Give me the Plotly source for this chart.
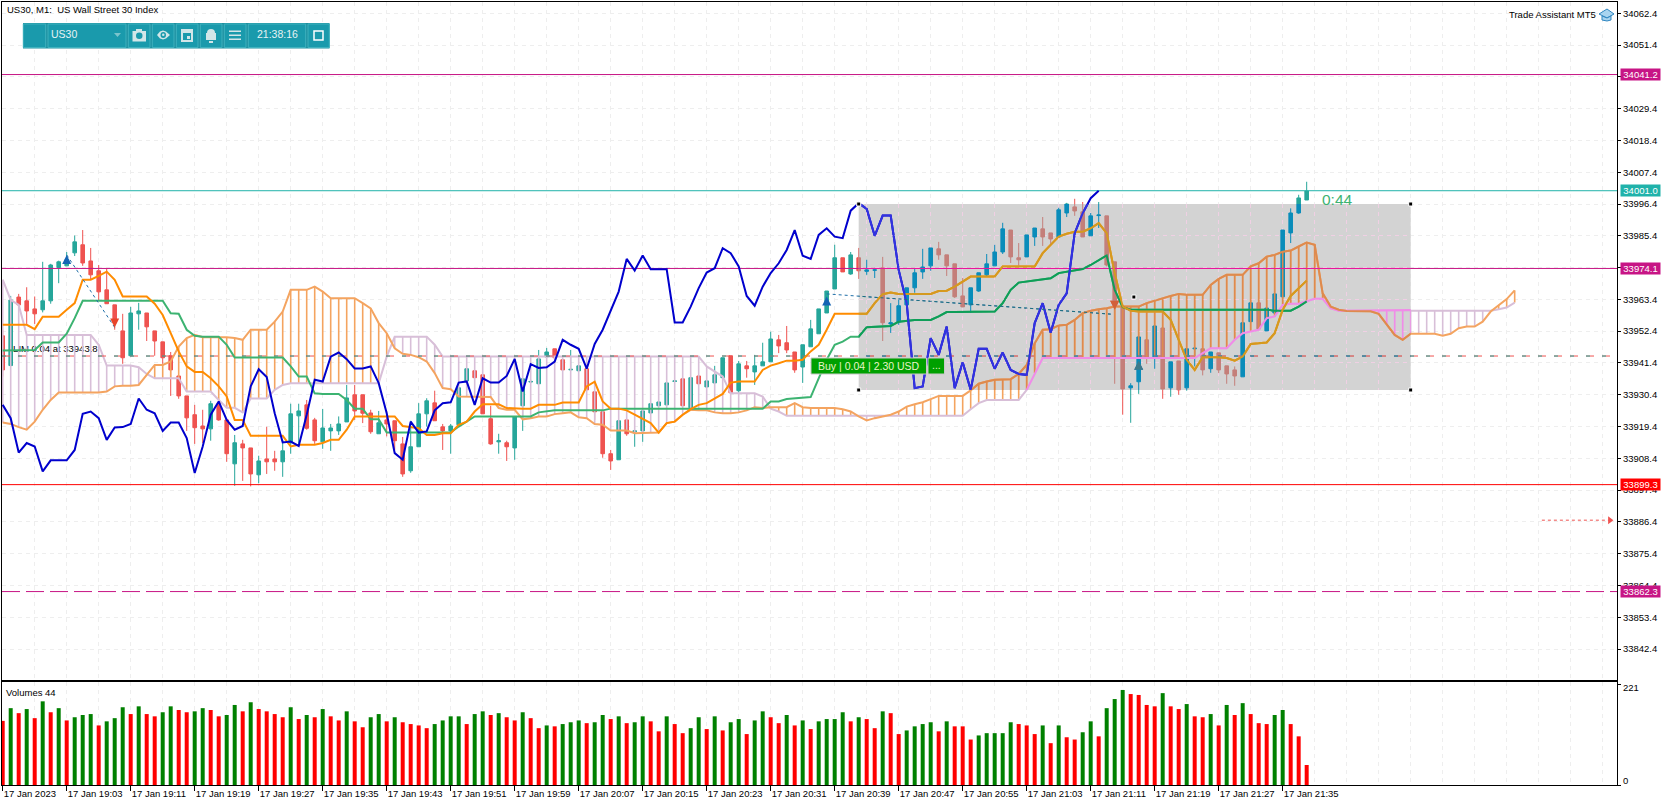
import plotly.graph_objects as go

W, H = 1670, 806

# candles, one row of ten bars per line
opens = [33950.8, 33940.5, 33964.2, 33962.9, 33960.1, 33959.8, 33962.9, 33974.4, 33975.0, 33979.5,
         33982.3, 33976.7, 33973.3, 33966.7, 33961.5, 33952.5, 33943.9, 33958.4, 33958.7, 33952.5,
         33948.7, 33943.9, 33936.9, 33930.0, 33923.5, 33919.6, 33918.6, 33927.3, 33921.7, 33906.5,
         33913.4, 33912.0, 33902.7, 33908.2, 33908.2, 33907.2, 33913.8, 33923.1, 33926.9, 33921.7,
         33914.1, 33917.9, 33917.9, 33921.0, 33930.4, 33930.4, 33924.1, 33916.9, 33921.7, 33921.4,
         33913.4, 33904.1, 33912.4, 33923.8, 33927.6, 33919.3, 33917.9, 33920.0, 33935.2, 33938.7,
         33937.3, 33922.1, 33914.1, 33913.8, 33912.0, 33926.6, 33934.8, 33934.2, 33943.5, 33946.3,
         33942.5, 33939.0, 33938.7, 33939.4, 33931.4, 33924.5, 33910.0, 33907.9, 33921.7, 33917.6,
         33917.9, 33924.1, 33926.6, 33926.9, 33935.0, 33935.9, 33925.9, 33936.9, 33933.1, 33934.5,
         33936.3, 33943.9, 33931.8, 33940.4, 33938.3, 33940.4, 33941.8, 33949.4, 33948.4, 33945.2,
         33940.0, 33947.0, 33951.5, 33958.7, 33967.0, 33977.8, 33972.2, 33977.8, 33973.1, 33973.5,
         33974.3, 33954.9, 33955.6, 33961.5, 33967.4, 33972.9, 33975.0, 33980.9, 33978.8, 33975.7,
         33964.6, 33961.5, 33966.3, 33971.9, 33975.0, 33979.8, 33987.4, 33977.8, 33978.1, 33985.0,
         33987.8, 33986.4, 33985.0, 33993.3, 33995.4, 33993.7, 33985.4, 33992.4, 33992.3, 33976.4,
         33960.8, 33932.8, 33934.9, 33949.4, 33943.0, 33953.5, 33932.8, 33942.1, 33932.8, 33946.3,
         33946.3, 33939.4, 33944.9, 33940.4, 33939.0, 33936.6, 33955.7, 33962.2, 33952.5, 33958.7,
         33964.3, 33986.4, 33993.3, 33997.8]
highs = [33952.9, 33964.6, 33965.3, 33967.6, 33964.4, 33976.4, 33975.7, 33976.8, 33979.8, 33985.5,
         33987.4, 33981.2, 33975.3, 33974.0, 33961.5, 33958.4, 33960.8, 33962.2, 33958.7, 33952.5,
         33948.7, 33945.2, 33936.9, 33930.0, 33926.9, 33925.2, 33928.3, 33928.3, 33921.7, 33916.5,
         33914.8, 33912.0, 33909.3, 33919.3, 33911.0, 33914.8, 33927.3, 33927.3, 33928.6, 33922.4,
         33925.5, 33920.3, 33922.9, 33933.8, 33933.8, 33930.4, 33925.2, 33924.8, 33924.8, 33921.4,
         33915.8, 33921.4, 33927.5, 33929.2, 33931.8, 33920.3, 33920.3, 33932.8, 33939.4, 33938.7,
         33937.3, 33926.6, 33916.9, 33914.5, 33922.8, 33935.9, 33935.6, 33945.9, 33946.6, 33946.3,
         33942.5, 33945.9, 33940.4, 33939.4, 33931.4, 33924.5, 33911.3, 33921.4, 33921.7, 33917.9,
         33924.8, 33927.3, 33927.9, 33934.5, 33935.2, 33935.9, 33936.3, 33936.9, 33935.2, 33940.4,
         33943.2, 33943.9, 33942.1, 33942.1, 33944.2, 33948.4, 33952.2, 33951.1, 33954.2, 33945.2,
         33947.7, 33956.3, 33960.1, 33966.3, 33982.3, 33977.8, 33979.8, 33981.2, 33977.1, 33974.3,
         33978.1, 33962.1, 33963.2, 33967.4, 33974.0, 33980.9, 33981.2, 33983.3, 33978.8, 33975.7,
         33970.8, 33967.4, 33972.6, 33979.1, 33982.3, 33989.9, 33987.4, 33982.9, 33985.7, 33988.1,
         33991.9, 33986.4, 33995.1, 33996.8, 33998.2, 33997.1, 33993.3, 33997.1, 33992.3, 33976.4,
         33961.5, 33934.4, 33950.5, 33949.4, 33954.2, 33953.5, 33941.8, 33942.1, 33946.3, 33946.5,
         33946.3, 33945.2, 33944.9, 33940.4, 33940.2, 33955.3, 33962.2, 33962.2, 33960.4, 33965.3,
         33987.4, 33994.9, 33999.6, 34004.1]
lows = [33936.7, 33940.5, 33961.5, 33954.9, 33954.9, 33958.9, 33961.9, 33969.0, 33975.0, 33978.4,
        33975.0, 33970.2, 33963.2, 33961.9, 33952.9, 33941.1, 33943.9, 33952.9, 33949.0, 33943.9,
        33941.1, 33930.0, 33929.0, 33917.9, 33913.4, 33913.7, 33914.5, 33921.4, 33907.2, 33898.9,
        33900.6, 33898.7, 33899.8, 33903.0, 33904.1, 33902.0, 33910.0, 33913.4, 33918.3, 33913.4,
        33911.7, 33911.0, 33916.5, 33921.0, 33921.7, 33920.6, 33916.9, 33916.9, 33916.0, 33911.3,
        33902.0, 33903.4, 33912.4, 33919.4, 33921.4, 33911.3, 33910.0, 33920.0, 33932.1, 33936.3,
        33923.8, 33913.1, 33910.0, 33907.5, 33907.9, 33917.9, 33934.4, 33934.2, 33943.5, 33942.5,
        33939.0, 33939.0, 33938.7, 33932.1, 33921.7, 33908.6, 33904.4, 33907.9, 33916.2, 33912.4,
        33914.1, 33924.1, 33926.6, 33926.9, 33935.0, 33926.6, 33925.9, 33934.2, 33933.1, 33934.5,
        33936.3, 33931.1, 33931.1, 33936.3, 33933.8, 33940.4, 33941.8, 33944.8, 33944.8, 33938.0,
        33934.5, 33947.0, 33951.5, 33958.7, 33967.0, 33972.9, 33971.9, 33970.5, 33971.9, 33970.8,
        33949.0, 33951.8, 33954.6, 33961.5, 33965.7, 33970.5, 33973.3, 33977.1, 33971.5, 33963.9,
        33960.8, 33958.7, 33966.0, 33971.5, 33975.0, 33979.1, 33976.0, 33975.0, 33978.1, 33981.9,
        33981.9, 33982.6, 33985.0, 33991.9, 33992.3, 33985.0, 33985.4, 33988.1, 33974.8, 33934.2,
        33923.5, 33920.7, 33930.7, 33941.1, 33939.4, 33929.0, 33929.7, 33930.4, 33931.8, 33940.2,
        33937.1, 33938.0, 33937.9, 33934.2, 33933.5, 33936.6, 33955.7, 33953.2, 33952.5, 33958.7,
        33964.3, 33982.9, 33993.0, 33997.8]
closes = [33939.0, 33963.2, 33961.5, 33959.4, 33958.4, 33962.9, 33975.3, 33976.4, 33977.1, 33983.3,
          33976.0, 33971.9, 33966.0, 33961.9, 33955.3, 33943.2, 33958.7, 33959.4, 33953.9, 33949.0,
          33943.2, 33939.0, 33930.0, 33922.4, 33919.0, 33918.6, 33927.3, 33921.7, 33910.0, 33913.8,
          33912.0, 33903.0, 33907.5, 33907.2, 33907.2, 33911.0, 33923.8, 33924.8, 33918.8, 33914.5,
          33918.9, 33918.9, 33920.3, 33929.3, 33924.8, 33924.0, 33917.6, 33920.7, 33920.3, 33914.5,
          33903.0, 33912.4, 33923.8, 33928.3, 33921.4, 33917.9, 33919.6, 33932.8, 33939.4, 33936.3,
          33923.8, 33913.4, 33914.5, 33912.4, 33922.8, 33935.9, 33935.0, 33942.8, 33945.2, 33943.2,
          33939.0, 33939.2, 33940.4, 33932.1, 33924.5, 33910.0, 33907.5, 33921.4, 33916.9, 33917.9,
          33924.8, 33927.3, 33927.9, 33934.5, 33935.2, 33926.6, 33936.3, 33934.2, 33935.2, 33937.3,
          33943.2, 33931.1, 33941.1, 33939.4, 33940.4, 33941.8, 33949.7, 33947.3, 33945.9, 33939.0,
          33947.7, 33953.2, 33960.1, 33966.3, 33977.8, 33972.9, 33978.8, 33973.3, 33973.6, 33973.6,
          33955.3, 33955.3, 33961.2, 33967.4, 33972.6, 33974.6, 33981.2, 33978.8, 33975.0, 33964.3,
          33960.8, 33967.4, 33972.6, 33975.7, 33979.8, 33987.8, 33978.1, 33977.1, 33985.7, 33988.1,
          33985.0, 33984.3, 33994.4, 33996.4, 33994.0, 33985.0, 33992.3, 33992.6, 33975.3, 33961.5,
          33932.4, 33933.5, 33950.4, 33943.0, 33954.2, 33932.4, 33941.8, 33932.1, 33946.3, 33946.5,
          33939.0, 33945.2, 33939.0, 33937.6, 33936.9, 33955.3, 33962.2, 33953.2, 33960.4, 33965.3,
          33987.4, 33993.3, 33998.5, 34000.9]

volumes = [141, 169, 158, 167, 147, 184, 160, 169, 142, 149,
           154, 156, 131, 140, 147, 171, 156, 173, 156, 151,
           160, 173, 165, 160, 162, 169, 165, 151, 154, 176,
           162, 182, 167, 162, 156, 149, 171, 145, 154, 149,
           167, 151, 142, 162, 140, 127, 149, 156, 140, 149,
           138, 134, 131, 125, 134, 142, 151, 151, 134, 156,
           162, 154, 158, 149, 142, 160, 147, 125, 131, 129,
           134, 138, 142, 136, 138, 154, 145, 151, 136, 138,
           151, 140, 118, 151, 134, 114, 125, 149, 123, 151,
           120, 138, 145, 112, 142, 162, 149, 136, 154, 131,
           142, 123, 140, 145, 145, 160, 140, 149, 145, 125,
           162, 158, 112, 120, 129, 134, 138, 118, 140, 129,
           129, 100, 109, 114, 114, 114, 138, 134, 131, 112,
           131, 92, 131, 105, 100, 116, 140, 107, 169, 189,
           209, 200, 198, 176, 173, 202, 173, 167, 178, 151,
           149, 156, 131, 176, 154, 180, 156, 136, 134, 154,
           165, 134, 107, 44]
# colours read bar by bar from the volume pane
volume_up = [False, True, False, True, False, True, False, True, False, True,
             True, True, False, True, True, True, False, True, False, False,
             True, True, False, False, True, True, False, False, True, True,
             False, True, False, False, False, False, True, False, True, False,
             True, False, False, True, False, False, True, True, False, True,
             False, False, False, False, True, True, True, True, False, True,
             True, False, True, False, False, True, False, False, True, False,
             True, True, True, False, True, True, False, True, False, True,
             True, False, False, True, False, False, True, True, False, True,
             False, True, True, False, True, True, False, False, True, False,
             True, False, True, True, True, True, False, True, False, False,
             True, False, False, True, True, True, True, False, True, False,
             False, False, True, True, True, True, True, False, False, False,
             True, False, True, False, False, True, True, False, True, True,
             True, False, False, False, False, True, False, False, True, False,
             False, True, False, True, False, True, False, False, False, True,
             True, False, False, False]

senkou_a = [33920.8, 33920.3, 33919.2, 33918.3, 33921.1, 33925.2, 33928.6, 33931.2, 33931.2, 33931.2,
            33931.2, 33931.2, 33931.2, 33931.5, 33933.3, 33933.5, 33933.5, 33933.8, 33937.3, 33940.7,
            33940.7, 33941.9, 33947.1, 33950.0, 33951.1, 33950.3, 33950.3, 33950.3, 33950.3, 33950.0,
            33949.4, 33952.9, 33952.9, 33952.9, 33955.7, 33959.2, 33966.7, 33966.7, 33966.7, 33967.8,
            33966.1, 33963.8, 33963.8, 33963.8, 33963.8, 33962.1, 33960.3, 33955.2, 33951.7, 33946.5,
            33944.6, 33944.2, 33943.4, 33941.9, 33937.9, 33932.7, 33932.3, 33929.8, 33929.8, 33929.8,
            33929.8, 33929.6, 33925.8, 33925.2, 33925.2, 33921.9, 33922.3, 33922.9, 33922.9, 33923.7,
            33924.0, 33924.3, 33922.6, 33922.3, 33920.3, 33920.0, 33918.0, 33918.0, 33918.0, 33917.1,
            33917.1, 33917.3, 33917.3, 33920.6, 33921.1, 33923.5, 33925.2, 33925.0, 33925.0, 33924.3,
            33924.0, 33924.0, 33924.3, 33925.0, 33926.1, 33925.8, 33926.1, 33926.1, 33926.1, 33927.5,
            33926.1, 33925.8, 33925.8, 33925.8, 33925.8, 33925.4, 33924.6, 33922.9, 33921.5, 33922.3,
            33922.9, 33923.5, 33924.6, 33926.3, 33927.1, 33927.8, 33928.9, 33930.0, 33930.0, 33930.0,
            33930.0, 33931.9, 33934.2, 33935.0, 33935.6, 33935.7, 33935.8, 33937.6, 33940.7, 33948.2,
            33952.9, 33953.1, 33954.4, 33954.6, 33956.3, 33958.6, 33959.5, 33960.0, 33960.3, 33960.9,
            33960.9, 33960.9, 33960.9, 33962.1, 33963.0, 33963.8, 33964.6, 33965.3, 33965.0, 33965.0,
            33965.0, 33968.4, 33970.5, 33971.9, 33971.9, 33971.9, 33974.8, 33975.9, 33978.2, 33978.8,
            33979.9, 33980.3, 33981.7, 33983.1, 33982.3, 33965.5, 33960.9, 33959.8, 33959.4, 33959.4,
            33959.4, 33959.3, 33958.4, 33954.6, 33951.1, 33949.4, 33951.5, 33951.5, 33951.5, 33951.5,
            33950.8, 33951.5, 33953.4, 33954.0, 33954.0, 33955.7, 33959.2, 33961.5, 33963.5, 33966.5]
senkou_b = [33970.2, 33963.2, 33961.5, 33951.1, 33951.1, 33951.1, 33951.1, 33951.1, 33951.1, 33951.1,
            33951.1, 33951.1, 33947.7, 33940.5, 33940.5, 33940.5, 33940.5, 33939.9, 33937.6, 33936.1,
            33936.1, 33936.1, 33936.1, 33931.5, 33931.5, 33931.5, 33931.5, 33928.6, 33925.9, 33925.9,
            33924.3, 33929.1, 33929.1, 33929.1, 33932.1, 33933.8, 33934.4, 33934.4, 33934.4, 33934.4,
            33934.4, 33934.4, 33934.4, 33934.4, 33934.4, 33934.4, 33934.4, 33934.4, 33943.6, 33950.5,
            33950.5, 33950.5, 33950.5, 33950.5, 33947.7, 33943.6, 33943.6, 33943.6, 33943.6, 33943.6,
            33943.6, 33943.6, 33943.6, 33943.6, 33943.6, 33943.6, 33943.6, 33943.6, 33943.6, 33943.6,
            33943.6, 33943.6, 33943.6, 33943.6, 33943.6, 33943.6, 33943.6, 33943.6, 33943.6, 33943.6,
            33943.6, 33943.6, 33943.6, 33943.6, 33943.6, 33943.6, 33943.6, 33943.6, 33940.2, 33938.4,
            33936.7, 33930.9, 33930.9, 33930.9, 33930.9, 33929.8, 33925.6, 33924.6, 33923.1, 33923.1,
            33923.1, 33923.1, 33923.1, 33923.1, 33923.1, 33923.1, 33923.1, 33923.1, 33923.1, 33923.1,
            33923.1, 33923.1, 33923.1, 33923.1, 33923.1, 33923.1, 33923.1, 33923.1, 33923.1, 33923.1,
            33923.1, 33925.4, 33927.5, 33928.6, 33928.6, 33928.6, 33928.6, 33928.6, 33932.1, 33937.9,
            33943.1, 33943.1, 33943.1, 33943.1, 33943.1, 33943.1, 33943.1, 33943.1, 33943.1, 33943.1,
            33943.1, 33943.1, 33943.1, 33943.1, 33943.1, 33943.1, 33943.1, 33943.1, 33943.1, 33943.1,
            33944.8, 33946.5, 33946.5, 33946.5, 33949.4, 33951.7, 33952.3, 33952.9, 33956.9, 33957.5,
            33961.5, 33961.9, 33961.9, 33962.7, 33963.6, 33963.6, 33960.3, 33959.5, 33959.5, 33959.5,
            33959.5, 33959.5, 33959.5, 33959.5, 33959.5, 33959.5, 33959.5, 33959.5, 33959.5, 33959.5,
            33959.5, 33959.5, 33959.5, 33959.5, 33959.5, 33959.5, 33959.5, 33960.0, 33960.6, 33962.3]
tenkan = [33954.6, 33954.6, 33954.6, 33954.6, 33953.1, 33957.4, 33957.4, 33957.4, 33959.8, 33962.1,
          33970.2, 33970.2, 33971.5, 33973.0, 33970.2, 33964.4, 33964.4, 33964.4, 33964.4, 33961.9,
          33958.0, 33951.7, 33945.4, 33940.2, 33938.3, 33938.3, 33936.1, 33933.3, 33929.8, 33921.7,
          33921.7, 33916.2, 33916.2, 33916.2, 33916.2, 33916.2, 33912.5, 33913.1, 33913.1, 33913.1,
          33913.7, 33914.8, 33914.8, 33918.3, 33922.9, 33922.9, 33922.9, 33922.9, 33922.9, 33922.9,
          33919.6, 33919.2, 33918.8, 33916.5, 33916.5, 33917.1, 33917.1, 33920.0, 33921.1, 33924.6,
          33927.1, 33927.1, 33927.1, 33925.8, 33925.6, 33925.6, 33925.6, 33926.9, 33926.9, 33926.9,
          33927.7, 33927.7, 33927.7, 33933.3, 33934.9, 33928.1, 33925.6, 33925.6, 33925.0, 33923.5,
          33921.9, 33920.6, 33917.3, 33920.6, 33921.1, 33923.5, 33925.4, 33926.9, 33927.5, 33929.2,
          33930.7, 33934.6, 33935.0, 33935.0, 33935.0, 33939.0, 33940.5, 33941.3, 33942.2, 33942.2,
          33942.5, 33945.4, 33947.7, 33952.9, 33958.4, 33958.4, 33958.4, 33958.4, 33958.4, 33962.1,
          33965.2, 33965.8, 33965.3, 33965.3, 33965.3, 33965.3, 33965.3, 33966.3, 33966.4, 33967.8,
          33969.6, 33971.3, 33971.3, 33971.3, 33971.3, 33974.8, 33974.8, 33974.8, 33974.8, 33974.8,
          33979.4, 33982.3, 33985.1, 33986.1, 33986.8, 33986.8, 33988.0, 33989.8, 33986.3, 33972.5,
          33960.9, 33959.5, 33959.2, 33959.2, 33959.2, 33959.2, 33956.3, 33949.4, 33942.5, 33939.0,
          33943.4, 33943.4, 33943.4, 33943.1, 33942.2, 33943.6, 33948.0, 33948.2, 33948.5, 33951.7,
          33959.8, 33964.6, 33967.3, 33969.9]
kijun = [33945.7, 33945.7, 33945.7, 33945.7, 33945.9, 33948.5, 33948.5, 33948.5, 33951.5, 33956.9,
         33962.9, 33962.9, 33962.9, 33962.9, 33962.9, 33962.9, 33962.9, 33962.9, 33962.9, 33962.9,
         33962.9, 33958.6, 33958.4, 33952.9, 33950.8, 33950.5, 33950.5, 33950.5, 33947.7, 33943.3,
         33943.3, 33943.3, 33943.3, 33943.3, 33943.3, 33943.3, 33940.2, 33936.7, 33936.7, 33930.9,
         33930.7, 33930.7, 33930.7, 33928.6, 33925.6, 33925.6, 33921.9, 33921.9, 33917.3, 33917.3,
         33917.3, 33917.3, 33917.3, 33917.3, 33917.3, 33917.3, 33917.3, 33919.4, 33921.1, 33922.9,
         33922.9, 33922.9, 33922.9, 33922.9, 33922.9, 33922.9, 33922.9, 33924.3, 33924.6, 33925.0,
         33925.0, 33925.0, 33925.0, 33925.0, 33925.0, 33925.0, 33925.6, 33925.6, 33925.6, 33925.6,
         33925.6, 33925.6, 33925.6, 33925.6, 33925.6, 33925.6, 33925.6, 33925.6, 33925.6, 33925.6,
         33925.6, 33925.6, 33925.6, 33925.6, 33925.6, 33925.6, 33928.1, 33928.1, 33928.9, 33929.1,
         33929.2, 33929.6, 33936.1, 33942.5, 33947.7, 33948.8, 33950.5, 33950.5, 33953.8, 33954.0,
         33954.0, 33954.2, 33955.7, 33956.0, 33956.3, 33956.3, 33956.3, 33957.5, 33959.0, 33959.0,
         33959.0, 33959.2, 33959.2, 33959.2, 33959.2, 33962.1, 33966.7, 33969.2, 33969.6, 33969.9,
         33970.5, 33970.7, 33972.5, 33973.0, 33973.6, 33973.9, 33975.3, 33977.1, 33978.6, 33966.7,
         33960.7, 33959.8, 33959.8, 33959.8, 33959.8, 33959.8, 33959.8, 33959.8, 33959.8, 33959.8,
         33959.8, 33959.8, 33959.8, 33959.8, 33959.8, 33959.8, 33959.8, 33959.8, 33959.8, 33959.5,
         33959.5, 33959.5, 33960.9, 33962.7]
chikou = [33926.9, 33922.3, 33910.4, 33913.7, 33912.5, 33903.9, 33907.7, 33907.7, 33907.7, 33911.3,
          33923.8, 33924.6, 33922.3, 33914.8, 33919.1, 33919.2, 33920.3, 33929.1, 33925.2, 33924.0,
          33917.9, 33920.8, 33920.8, 33915.4, 33903.3, 33912.5, 33923.5, 33928.1, 33921.7, 33918.3,
          33919.6, 33933.3, 33939.2, 33936.5, 33924.0, 33913.9, 33914.2, 33912.7, 33923.5, 33935.6,
          33935.0, 33943.6, 33945.0, 33942.7, 33939.5, 33939.5, 33940.2, 33934.4, 33924.0, 33910.2,
          33907.9, 33921.1, 33917.3, 33917.7, 33925.0, 33927.5, 33927.8, 33934.6, 33935.0, 33926.9,
          33936.1, 33934.6, 33934.6, 33936.9, 33942.8, 33931.5, 33941.0, 33939.7, 33939.9, 33941.9,
          33949.4, 33947.7, 33946.3, 33939.4, 33948.0, 33952.9, 33959.8, 33966.1, 33977.4, 33973.4,
          33978.6, 33973.8, 33973.8, 33973.8, 33955.4, 33955.4, 33960.9, 33967.3, 33972.7, 33974.2,
          33981.1, 33979.4, 33974.8, 33964.6, 33961.2, 33967.8, 33972.5, 33975.9, 33980.5, 33987.4,
          33978.5, 33977.4, 33985.7, 33988.0, 33985.1, 33984.6, 33994.1, 33996.7, 33994.7, 33985.4,
          33992.4, 33992.4, 33973.6, 33962.1, 33932.7, 33933.3, 33950.0, 33944.2, 33954.0, 33932.7,
          33941.6, 33932.1, 33946.3, 33946.3, 33939.4, 33945.0, 33939.0, 33937.6, 33937.3, 33955.2,
          33962.1, 33951.9, 33961.5, 33965.5, 33986.3, 33993.2, 33998.4, 34001.0]

price_ticks = [34062.4, 34051.4, 34040.4, 34029.4, 34018.4, 34007.4, 33996.4, 33985.4, 33974.4, 33963.4, 33952.4,
               33941.4, 33930.4, 33919.4, 33908.4, 33897.4, 33886.4, 33875.4, 33864.4, 33853.4, 33842.4]
time_ticks = [0, 8, 16, 24, 32, 40, 48, 56, 64, 72, 80, 88, 96, 104, 112, 120, 128, 136, 144, 152, 160]
time_labels = ["17 Jan 2023", "17 Jan 19:03", "17 Jan 19:11", "17 Jan 19:19", "17 Jan 19:27", "17 Jan 19:35",
               "17 Jan 19:43", "17 Jan 19:51", "17 Jan 19:59", "17 Jan 20:07", "17 Jan 20:15", "17 Jan 20:23",
               "17 Jan 20:31", "17 Jan 20:39", "17 Jan 20:47", "17 Jan 20:55", "17 Jan 21:03", "17 Jan 21:11",
               "17 Jan 21:19", "17 Jan 21:27", "17 Jan 21:35"]

# horizontal levels: price, tag colour
level_prices = [34041.2, 34001.0, 33974.1, 33899.3, 33862.3]
level_colors = ["#C71585", "#20B2AA", "#C71585", "#FF0000", "#C71585"]
bid_ask = 33943.8
buy_index = [8, 103, 142]
buy_price = [33978.8, 33964.4, 33942.2]
sell_index = [14, 139]
sell_price = [33953.7, 33959.8]
trade_x = [[8, 14], [103, 138.5]]
trade_y = [[33978.8, 33953.7], [33965.3, 33958.3]]
box_left, box_right = 107, 176
box_top, box_bottom = 33996.4, 33932.05
pending_x = [192.4, 200.9]
pending_y = [33887.0, 33887.0]

# pixel layout of the panes
PANE_L, PANE_R = 2, 1617
MAIN_T, MAIN_B = 2, 680
VOL_T, VOL_B = 682, 785
x_lo, x_hi = -0.0875, 201.79
y_lo, y_hi = 33831.7, 34066.3

main_colors = dict(up="#26A69A", down="#EF5350", a="#F4A460", b="#D8BFD8", tenkan="#FF8C00", kijun="#3CB371",
                   chikou="#0000CD", level=level_colors, dash="#1F6FA8", sell="#E8452C", buy="#1464B4",
                   ask="#EF5350", bid="#26A69A")
box_colors = dict(up="#0A8CBA", down="#C47F7A", a="#DE8A4E", b="#F08CE8", tenkan="#D49A20", kijun="#0E9E58",
                  chikou="#3232E0", level=["#E8189C", "#20B2AA", "#E8189C", "#FF0000", "#C71585"], dash="#1F6F80",
                  sell="#D2603A", buy="#3D7A8A", ask="#C87A78", bid="#0A8CBA")


def fx(px):
    return px / W


def fy(px):
    return 1 - px / H


def hatch(top, bottom):
    # vertical strokes of the cloud where top is above bottom
    xs, ys = [], []
    for i in range(len(top)):
        if top[i] >= bottom[i]:
            xs += [i, i, None]
            ys += [top[i], bottom[i], None]
    return xs, ys


def add_line(fig, x, y, color, width, axes, dash=None):
    fig.add_trace(go.Scatter(x=x, y=y, mode="lines", line=dict(color=color, width=width, dash=dash),
                             xaxis=axes[0], yaxis=axes[1], showlegend=False, hoverinfo="skip"))


def draw_chart(fig, axes, col):
    ''' draws the price pane once, used again with other colours inside the box'''
    hx, hy = hatch(senkou_a, senkou_b)
    add_line(fig, hx, hy, col["a"], 1.6, axes)
    hx, hy = hatch(senkou_b, senkou_a)
    add_line(fig, hx, hy, col["b"], 1.6, axes)
    add_line(fig, list(range(len(senkou_b))), senkou_b, col["b"], 2, axes)
    add_line(fig, list(range(len(senkou_a))), senkou_a, col["a"], 2, axes)
    for level, color in zip(level_prices, col["level"]):
        dash = "18px,6px" if level == 33862.3 else None
        add_line(fig, [x_lo, x_hi], [level, level], color, 1, axes, dash)
    add_line(fig, [x_lo, x_hi], [bid_ask, bid_ask], col["ask"], 1, axes, "8px,8px")
    add_line(fig, [x_lo, x_hi], [bid_ask, bid_ask], col["bid"], 1, axes, "4px,12px")
    fig.add_trace(go.Candlestick(x=list(range(len(opens))), open=opens, high=highs, low=lows, close=closes,
                                 increasing=dict(line=dict(color=col["up"], width=1), fillcolor=col["up"]),
                                 decreasing=dict(line=dict(color=col["down"], width=1), fillcolor=col["down"]),
                                 whiskerwidth=0, xaxis=axes[0], yaxis=axes[1], showlegend=False, hoverinfo="skip"))
    add_line(fig, list(range(len(kijun))), kijun, col["kijun"], 2, axes)
    add_line(fig, list(range(len(tenkan))), tenkan, col["tenkan"], 2, axes)
    add_line(fig, list(range(len(chikou))), chikou, col["chikou"], 2, axes)
    for tx, ty in zip(trade_x, trade_y):
        add_line(fig, tx, ty, col["dash"], 1, axes, "dot")
    fig.add_trace(go.Scatter(x=buy_index, y=buy_price, mode="markers", xaxis=axes[0], yaxis=axes[1],
                             marker=dict(symbol="arrow-up", size=9, color=col["buy"], line=dict(width=0)),
                             showlegend=False, hoverinfo="skip"))
    fig.add_trace(go.Scatter(x=sell_index, y=sell_price, mode="markers", xaxis=axes[0], yaxis=axes[1],
                             marker=dict(symbol="arrow-down", size=9, color=col["sell"], line=dict(width=0)),
                             showlegend=False, hoverinfo="skip"))


font = "Liberation Sans"
fig = go.Figure()

# grey box sits above the grid and under every mark
fig.add_trace(go.Scatter(x=[box_left, box_right, box_right, box_left, box_left],
                         y=[box_bottom, box_bottom, box_top, box_top, box_bottom],
                         mode="lines", fill="toself", fillcolor="#D3D3D3", line=dict(width=0),
                         showlegend=False, hoverinfo="skip"))
# position label is covered by the indicators in the reference
fig.add_trace(go.Scatter(x=[1.3], y=[33945.9], mode="text", text=["LIM 0.04 at 33943.8"],
                         textposition="middle right", textfont=dict(family=font, size=9.5, color="black"),
                         showlegend=False, hoverinfo="skip"))
draw_chart(fig, ("x", "y"), main_colors)
add_line(fig, pending_x, pending_y, "#EF5350", 1, ("x", "y"), "3px,3px")
fig.add_trace(go.Scatter(x=pending_x[1:], y=pending_y[1:], mode="markers",
                         marker=dict(symbol="triangle-right", size=7, color="#EF5350"),
                         showlegend=False, hoverinfo="skip"))

# same drawing again, clipped to the box through its own axes
draw_chart(fig, ("x3", "y3"), box_colors)

fig.add_trace(go.Bar(x=list(range(len(volumes))), y=volumes, width=0.5,
                     marker=dict(color=["#008000" if u else "#FF0000" for u in volume_up], line=dict(width=0)),
                     xaxis="x2", yaxis="y2", showlegend=False, hoverinfo="skip"))

grid = dict(gridcolor="#EEEEEE", griddash="4px,4px", gridwidth=1)
frame = dict(showline=True, linecolor="black", linewidth=1, mirror=True, zeroline=False)
main_h = MAIN_B - MAIN_T
box_t = MAIN_T + (y_hi - box_top) / (y_hi - y_lo) * main_h
box_b = MAIN_T + (y_hi - box_bottom) / (y_hi - y_lo) * main_h
box_l = PANE_L + (box_left - x_lo) / (x_hi - x_lo) * (PANE_R - PANE_L)
box_r = PANE_L + (box_right - x_lo) / (x_hi - x_lo) * (PANE_R - PANE_L)

# plot background stays clear, otherwise the box subplot paints over the price pane
fig.update_layout(
    width=W, height=H, margin=dict(l=0, r=0, t=0, b=0), autosize=False,
    paper_bgcolor="white", plot_bgcolor="rgba(0,0,0,0)", boxgap=0.55, boxgroupgap=0, showlegend=False,
    font=dict(family=font, size=9.5, color="black"),
    xaxis=dict(domain=[fx(PANE_L), fx(PANE_R)], range=[x_lo, x_hi], anchor="y", tick0=0, dtick=4, ticks="",
               showticklabels=False, showgrid=True, rangeslider=dict(visible=False), **grid, **frame),
    yaxis=dict(domain=[fy(MAIN_B), fy(MAIN_T)], range=[y_lo, y_hi], anchor="x", side="right", tickvals=price_ticks,
               ticktext=[f"{t:.1f}" for t in price_ticks], ticks="outside", ticklen=3, tickcolor="black",
               showgrid=True, **grid, **frame),
    xaxis2=dict(domain=[fx(PANE_L), fx(PANE_R)], range=[x_lo, x_hi], anchor="y2", tickvals=time_ticks,
                ticktext=time_labels, ticks="outside", ticklen=5, tickcolor="black", tickangle=0,
                ticklabelposition="outside right", showgrid=True, **grid, **frame,
                minor=dict(tickmode="linear", tick0=0, dtick=4, showgrid=True, ticks="", **grid)),
    yaxis2=dict(domain=[fy(VOL_B), fy(VOL_T)], range=[0, 226.5], anchor="x2", side="right", tickvals=[0, 221],
                showticklabels=False, ticks="outside", ticklen=3, tickcolor="black", showgrid=False, **frame),
    xaxis3=dict(domain=[fx(box_l), fx(box_r)], range=[box_left, box_right], anchor="y3", tick0=0, dtick=4,
                ticks="", showticklabels=False, showline=False, zeroline=False, showgrid=True,
                gridcolor="#F0D0E4", griddash="4px,4px", rangeslider=dict(visible=False)),
    yaxis3=dict(domain=[fy(box_b), fy(box_t)], range=[box_bottom, box_top], anchor="x3", tickvals=price_ticks,
                ticks="", showticklabels=False, showline=False, zeroline=False, showgrid=True,
                gridcolor="#F0D0E4", griddash="4px,4px"),
)

shapes = []

# handles on the box
box_mid = 141.4
for hx, hy in [(box_left, box_top), (box_left, box_bottom), (box_right, box_top), (box_right, box_bottom),
               (box_mid, (box_top + box_bottom) / 2)]:
    shapes.append(dict(type="rect", xref="x", yref="y", xsizemode="pixel", ysizemode="pixel", xanchor=hx, yanchor=hy,
                       x0=-2, x1=2, y0=-2, y1=2, fillcolor="black", line=dict(color="white", width=1), layer="above"))


def paper_rect(x0, y0, x1, y1, fill, border=None, width=1):
    return dict(type="rect", xref="paper", yref="paper", x0=fx(x0), x1=fx(x1), y0=fy(y1), y1=fy(y0), fillcolor=fill,
                line=dict(color=border, width=width if border else 0), layer="above")


def paper_circle(x0, y0, x1, y1, fill, border=None):
    return dict(type="circle", xref="paper", yref="paper", x0=fx(x0), x1=fx(x1), y0=fy(y1), y1=fy(y0), fillcolor=fill,
                line=dict(color=border, width=1 if border else 0), layer="above")


def paper_path(points, fill, border=None):
    d = "M " + " L ".join(f"{fx(px):.5f},{fy(py):.5f}" for px, py in points) + " Z"
    return dict(type="path", xref="paper", yref="paper", path=d, fillcolor=fill,
                line=dict(color=border, width=1 if border else 0), layer="above")


# toolbar
icon = "#D2E6E8"
teal = "#1A9AAC"
shapes.append(paper_rect(23, 23, 329.5, 48.5, "#1D8FA0"))
for b0, b1 in [(23.3, 45.7), (48, 126), (128.3, 150), (152.3, 174), (176.3, 198), (200.3, 222), (224.3, 246),
               (248.3, 305.7), (308, 329.3)]:
    shapes.append(paper_rect(b0, 24, b1, 47.5, teal, "#3FB2BE"))
shapes += [
    paper_path([(114, 33), (121, 33), (117.5, 37)], "#7CC4CC"),
    paper_rect(132.5, 31, 146, 41.5, icon), paper_rect(136, 29, 142, 32, icon), paper_circle(136, 32.5, 142.5, 39, teal),
    paper_path([(157, 35), (160, 31.5), (163, 30.5), (166, 31.5), (170, 35), (166, 38.5), (163, 39.5), (160, 38.5)], icon),
    paper_circle(160.5, 32, 166, 38, teal), paper_circle(162, 33.5, 164.5, 36, icon),
    paper_rect(181, 29, 193, 42, icon), paper_rect(183, 33, 191, 40, teal), paper_rect(187, 36, 190, 39, icon),
    paper_circle(207, 29, 215, 37, icon), paper_rect(206, 33, 216, 40, icon), paper_rect(209, 41, 213, 43, icon),
    paper_rect(229, 30.5, 241, 32, icon), paper_rect(229, 34.5, 241, 36, icon), paper_rect(229, 38.5, 241, 40, icon),
    paper_rect(314, 31, 323, 40, teal, "white", 1.5),
]
# cap next to Trade Assistant
shapes += [
    paper_path([(1599, 14), (1607, 9), (1614, 14), (1607, 18)], "#A8D4F0", "#2E86C1"),
    paper_path([(1602, 16), (1602, 20), (1607, 21), (1611, 20), (1611, 16), (1607, 18)], "#A8D4F0", "#2E86C1"),
]
# green order panel
shapes += [paper_rect(811, 358, 926.5, 374, "#00A000", "#C8C8C8"), paper_rect(928, 358, 944.5, 374, "#00A000", "#C8C8C8")]
fig.update_layout(shapes=shapes)


def note(text, x, y, size=9.5, color="black", anchor="left"):
    fig.add_annotation(text=text, xref="paper", yref="paper", x=fx(x), y=fy(y), xanchor=anchor, yanchor="middle",
                       showarrow=False, font=dict(family=font, size=size, color=color))


note("US30, M1:  US Wall Street 30 Index", 5, 9.5)
note("US30", 49, 34.5, 10.5, "#E6F3F4")
note("21:38:16", 277, 34.5, 10.5, "#E6F3F4", "center")
note("Trade Assistant MT5", 1507, 14)
note("Volumes 44", 4, 692)
note("0:44", 1320, 199, 15.5, "#3CB371")
note("Buy | 0.04 | 2.30 USD", 816, 366, 10.5, "#E8F4C8")
note("...", 936, 365, 10.5, "#E8F4C8", "center")
note("221", 1621, 687)
note("0", 1621, 780)

# price tags over the axis labels
for level, color in zip(level_prices, level_colors):
    fig.add_annotation(text=f"{level:.1f}", xref="paper", yref="y", x=fx(1620), y=level, xanchor="left",
                       yanchor="middle", showarrow=False, font=dict(family=font, size=9.5, color="white"),
                       bgcolor=color, width=39, height=11, borderpad=0)

fig.write_html("out.html", config={"displayModeBar": False},
               post_script="document.body.style.margin='0';document.body.style.overflow='hidden';")
